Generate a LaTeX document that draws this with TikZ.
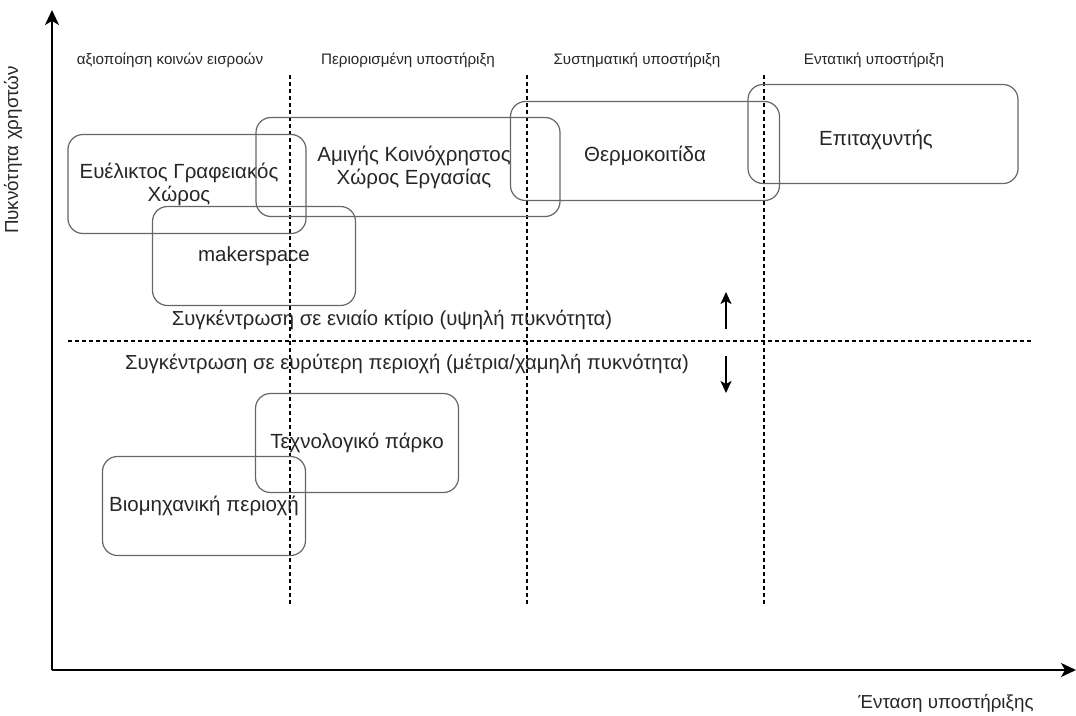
\documentclass[tikz,border=0pt]{standalone}
\usepackage{fontspec}
\setmainfont{Liberation Sans}
\usetikzlibrary{arrows.meta}

\begin{document}
\begin{tikzpicture}[x=1pt,y=-1pt,
    area/.style ={draw=black!60, line width=1.2pt, rounded corners=15pt, minimum height=99pt, inner sep=0pt, align=center, text=black!85, font=\fontsize{20.5}{23}\selectfont},
    header/.style ={text=black!85, font=\fontsize{15.2}{17}\selectfont},
    note/.style ={text=black!85, font=\fontsize{20.3}{23}\selectfont},
    axlabel/.style ={text=black!85, font=\fontsize{18.8}{22}\selectfont},
    axis/.style ={line width=1.8pt, -{Stealth[length=15pt,width=14pt,inset=4pt]}},
    densityarrow/.style ={line width=1.6pt, -{Stealth[length=12pt,width=11pt,inset=3pt]}},
    divider/.style ={line width=1.2pt, dash pattern=on 4pt off 3pt}]
   \useasboundingbox (0,0) rectangle (1076,715);

   % axes
   \coordinate (O) at (52,670);
   \coordinate (Ytip) at (52,10);
   \coordinate (Xtip) at (1076,670);
   \draw[axis] (O) -- (Ytip);
   \draw[axis] (O) -- (Xtip);
   \node[axlabel, rotate=90] (ylab) at (13,150) {Πυκνότητα χρηστών};
   \node[axlabel] (xlab) at (946,703) {Ένταση υποστήριξης};

   % columns
   \node[header] (h1) at (170,60) {αξιοποίηση κοινών εισροών};
   \node[header] (h2) at (408,60) {Περιορισμένη υποστήριξη};
   \node[header] (h3) at (637,60) {Συστηματική υποστήριξη};
   \node[header] (h4) at (874,60) {Εντατική υποστήριξη};
   \coordinate (d1t) at (290,75);  \coordinate (d1b) at (290,606);
   \coordinate (d2t) at (527,75);  \coordinate (d2b) at (527,606);
   \coordinate (d3t) at (764,75);  \coordinate (d3b) at (764,606);
   \coordinate (hl) at (68,341);   \coordinate (hr) at (1031,341);
   \draw[divider] (d1t) -- (d1b);
   \draw[divider] (d2t) -- (d2b);
   \draw[divider] (d3t) -- (d3b);
   \draw[divider] (hl) -- (hr);

   % areas
   \node[area, minimum width=238pt] (office) at (187,184) {\hspace*{-16pt}Ευέλικτος Γραφειακός\\\hspace*{-16pt}Χώρος};
   \node[area, minimum width=304pt] (cowork) at (408,167) {\hspace*{12pt}Αμιγής Κοινόχρηστος\\\hspace*{12pt}Χώρος Εργασίας};
   \node[area, minimum width=203pt] (maker) at (254,256) {makerspace};
   \node[area, minimum width=269pt] (incub) at (645,151) {\raisebox{-5pt}[\height][\depth]{Θερμοκοιτίδα}};
   \node[area, minimum width=270pt] (accel) at (883,134) {\hspace*{-14pt}\raisebox{-6pt}[\height][\depth]{Επιταχυντής}};
   \node[area, minimum width=203pt] (techpark) at (357,443) {Τεχνολογικό πάρκο};
   \node[area, minimum width=203pt] (indzone) at (204,506) {Βιομηχανική περιοχή};

   % density
   \node[note] (high) at (392,320) {Συγκέντρωση σε ενιαίο κτίριο (υψηλή πυκνότητα)};
   \node[note] (low) at (407,364) {Συγκέντρωση σε ευρύτερη περιοχή (μέτρια/χαμηλή πυκνότητα)};
   \coordinate (ua) at (726,329); \coordinate (ub) at (726,292);
   \coordinate (da) at (726,356); \coordinate (db) at (726,393);
   \draw[densityarrow] (ua) -- (ub);
   \draw[densityarrow] (da) -- (db);
\end{tikzpicture}
\end{document}
